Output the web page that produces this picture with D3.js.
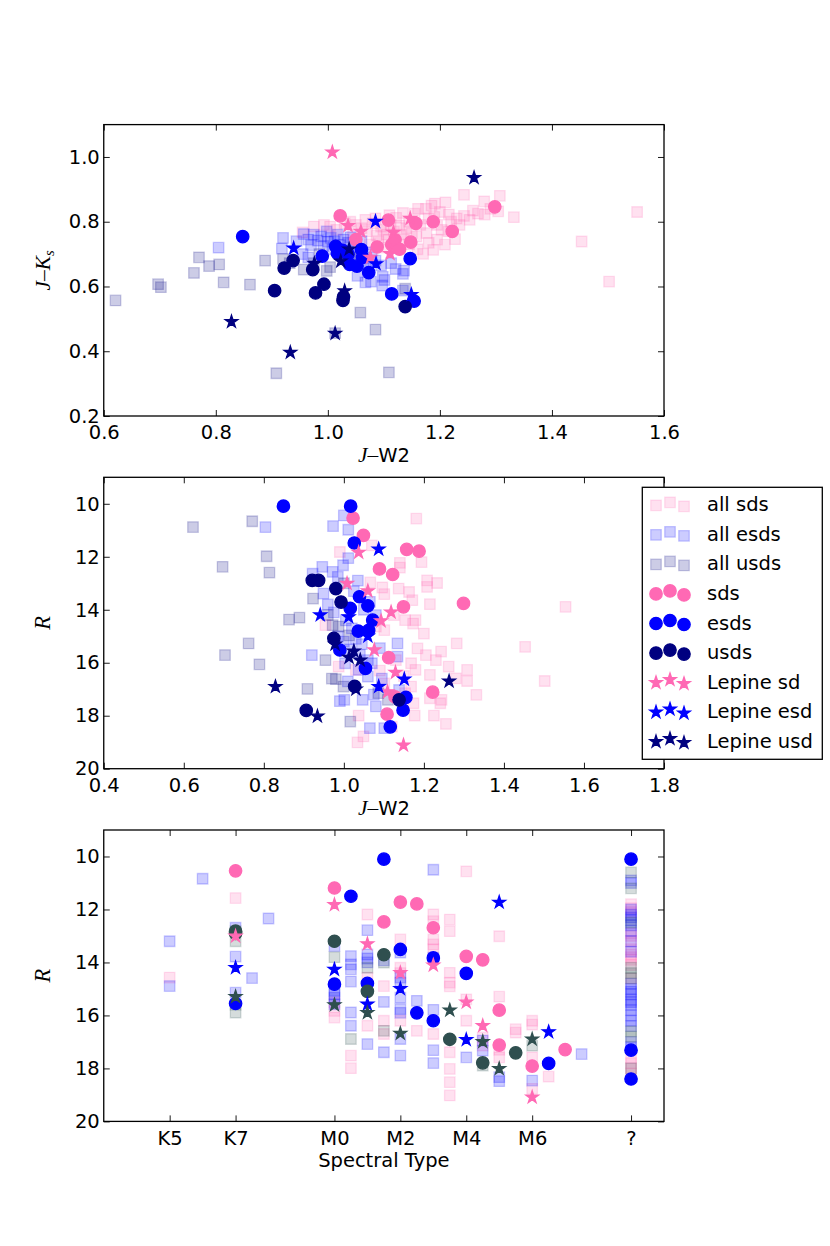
<!DOCTYPE html>
<html>
<head>
<meta charset="utf-8">
<script src="https://cdn.jsdelivr.net/npm/d3@7"></script>
<style>
  body { margin: 0; background: #fff; }
  svg { display: block; font-family: "DejaVu Sans", sans-serif; }
</style>
</head>
<body>
<svg id="fig" width="830" height="1246"></svg>
<script>
// ---- colours
const SD = "#ff69b4", ESD = "#0000ff", USD = "#000080", USD3 = "#2f4f4f";

// ---- panel 1: J-W2 vs J-Ks
const p1AllSds = [[0.955,0.767],[0.975,0.785],[0.993,0.790],[1.004,0.785],[1.015,0.775],[1.030,0.795],[1.040,0.800],[1.050,0.790],[1.060,0.780],[1.067,0.806],[1.070,0.770],[1.080,0.795],[1.087,0.757],[1.090,0.740],[1.095,0.785],[1.099,0.775],[1.105,0.760],[1.108,0.745],[1.112,0.790],[1.118,0.770],[1.122,0.812],[1.128,0.788],[1.130,0.760],[1.134,0.827],[1.136,0.745],[1.140,0.780],[1.145,0.800],[1.150,0.765],[1.155,0.825],[1.158,0.754],[1.161,0.840],[1.165,0.790],[1.170,0.701],[1.175,0.840],[1.176,0.765],[1.180,0.810],[1.185,0.850],[1.188,0.713],[1.191,0.856],[1.195,0.790],[1.200,0.830],[1.203,0.775],[1.209,0.729],[1.210,0.860],[1.216,0.822],[1.220,0.800],[1.227,0.746],[1.235,0.790],[1.243,0.883],[1.243,0.818],[1.253,0.806],[1.259,0.834],[1.268,0.825],[1.279,0.863],[1.280,0.822],[1.290,0.840],[1.304,0.832],[1.307,0.880],[1.332,0.814],[1.453,0.739],[1.502,0.615],[1.552,0.830],[1.100,0.720],[1.120,0.725],[1.145,0.730],[1.160,0.715],[1.180,0.735],[1.195,0.745],[1.045,0.760],[1.075,0.730],[1.085,0.810],[1.110,0.820],[1.190,0.815],[1.230,0.810],[1.215,0.770]];
const p1AllEsds = [[0.805,0.720],[0.920,0.750],[0.918,0.717],[0.944,0.740],[0.957,0.762],[0.965,0.745],[0.970,0.728],[0.975,0.760],[0.982,0.742],[0.988,0.755],[0.992,0.725],[0.998,0.770],[1.000,0.738],[1.005,0.750],[1.008,0.715],[1.012,0.740],[1.018,0.760],[1.022,0.728],[1.028,0.745],[1.032,0.710],[1.036,0.735],[1.040,0.752],[1.045,0.700],[1.050,0.725],[1.055,0.690],[1.060,0.740],[1.064,0.670],[1.068,0.705],[1.072,0.655],[1.078,0.690],[1.053,0.633],[1.067,0.613],[1.077,0.615],[1.097,0.603],[1.101,0.620],[1.098,0.630],[1.113,0.672],[1.121,0.654],[1.134,0.639],[1.136,0.649],[1.134,0.587],[0.955,0.700],[0.965,0.690],[1.085,0.680],[1.095,0.665]];
const p1AllUsds = [[0.621,0.557],[0.697,0.607],[0.702,0.598],[0.761,0.642],[0.770,0.690],[0.788,0.663],[0.806,0.668],[0.814,0.613],[0.861,0.606],[0.888,0.680],[0.908,0.332],[0.920,0.685],[0.932,0.672],[0.957,0.652],[0.975,0.672],[0.985,0.700],[0.998,0.648],[1.004,0.660],[1.013,0.456],[1.025,0.700],[1.040,0.690],[1.058,0.519],[1.085,0.467],[1.109,0.335],[1.138,0.593]];
const p1Sds = [[1.022,0.818],[1.050,0.745],[1.088,0.722],[1.108,0.805],[1.114,0.729],[1.120,0.744],[1.128,0.715],[1.148,0.737],[1.157,0.795],[1.188,0.800],[1.222,0.770],[1.298,0.846]];
const p1Esds = [[0.848,0.754],[0.990,0.694],[1.014,0.724],[1.017,0.703],[1.026,0.712],[1.039,0.668],[1.052,0.663],[1.060,0.714],[1.073,0.643],[1.114,0.577],[1.147,0.686],[1.154,0.555],[1.036,0.700],[1.062,0.690]];
const p1Usds = [[0.905,0.587],[0.922,0.657],[0.938,0.680],[0.973,0.652],[0.978,0.580],[0.993,0.607],[1.027,0.557],[1.028,0.568],[1.138,0.538]];
const p1LepSd = [[1.008,1.015],[1.036,0.788],[1.059,0.770],[1.076,0.690],[1.111,0.701],[1.117,0.767],[1.147,0.810]];
const p1LepEsd = [[0.939,0.718],[1.085,0.801],[1.086,0.670],[1.149,0.575]];
const p1LepUsd = [[1.261,0.936],[0.828,0.491],[0.933,0.396],[1.013,0.455],[1.030,0.586],[0.976,0.671],[1.023,0.678],[1.038,0.715]];

// ---- panel 2: J-W2 vs R
const p2AllSds = [[1.181,10.56],[0.990,11.82],[1.070,11.57],[1.140,12.23],[1.140,12.41],[1.194,12.20],[1.208,12.89],[1.208,13.14],[1.233,12.99],[1.066,12.97],[1.096,13.16],[1.137,13.20],[1.163,13.33],[1.171,13.64],[1.215,13.79],[1.101,13.41],[1.153,14.39],[1.179,14.39],[1.173,14.52],[1.080,14.64],[1.101,14.77],[0.954,14.58],[1.554,13.89],[1.453,15.40],[1.502,16.69],[1.282,15.27],[1.243,15.58],[1.205,15.71],[1.184,15.46],[1.168,16.02],[1.179,16.27],[1.215,16.46],[1.262,16.15],[1.308,16.27],[1.308,16.69],[1.280,16.59],[1.331,17.21],[1.244,17.40],[1.241,17.53],[1.215,17.34],[1.174,17.53],[1.153,17.15],[1.168,16.90],[1.177,18.00],[1.225,18.00],[1.255,18.31],[1.037,18.00],[1.034,19.01],[1.049,18.78],[1.101,16.78],[0.987,16.15],[1.030,16.27],[1.120,18.41],[1.130,15.90],[1.150,16.50],[1.090,16.30],[1.125,14.20],[1.200,14.90],[1.230,15.90]];
const p2AllEsds = [[0.804,10.88],[0.973,10.84],[1.000,10.44],[1.011,10.98],[1.011,12.05],[0.998,12.32],[0.972,12.57],[0.946,12.38],[0.922,12.64],[0.949,13.39],[0.985,12.76],[0.920,15.71],[1.001,17.40],[0.990,17.45],[1.065,18.47],[1.101,18.47],[1.080,17.65],[1.047,17.40],[1.134,15.27],[1.134,15.77],[1.138,17.03],[1.090,15.45],[1.037,16.27],[1.060,16.52],[1.070,16.02],[1.003,16.02],[0.960,13.80],[0.975,14.10],[1.005,14.40],[1.020,14.70],[1.030,15.10],[1.045,15.30],[1.000,15.20],[1.015,15.50],[1.040,15.70],[1.060,15.90],[0.985,15.00],[1.080,14.20],[1.050,14.00],[1.025,13.30],[1.065,13.70],[1.035,12.90],[1.010,16.70],[1.075,17.20],[1.095,16.60]];
const p2AllUsds = [[0.623,10.88],[0.771,10.66],[0.807,11.98],[0.814,12.60],[0.697,12.38],[0.863,14.37],[0.889,14.30],[0.762,15.27],[0.703,15.71],[0.789,16.06],[0.923,13.58],[0.954,15.90],[0.970,16.60],[0.980,16.62],[0.909,16.99],[0.999,16.90],[1.016,18.22],[1.086,17.15],[1.110,17.40],[0.972,14.58],[0.987,14.64],[1.013,14.97],[1.000,13.00],[0.960,14.20]];
const p2Sds = [[1.023,10.54],[1.049,11.19],[1.157,11.72],[1.188,11.79],[1.089,12.46],[1.122,12.67],[1.299,13.76],[1.149,13.89],[1.112,15.81],[1.222,17.11],[1.108,17.94],[1.128,17.29]];
const p2Esds = [[0.849,10.09],[1.017,10.09],[1.026,11.48],[1.039,13.51],[1.060,13.85],[1.016,13.95],[1.072,14.39],[1.036,14.81],[1.062,14.78],[0.990,15.52],[1.054,16.21],[1.155,17.31],[1.148,17.79],[1.116,18.42]];
const p2Usds = [[0.921,12.89],[0.937,12.89],[0.980,13.20],[0.993,13.71],[0.975,15.08],[1.027,16.89],[1.138,17.40],[0.906,17.80]];
const p2LepSd = [[1.037,11.84],[1.008,13.01],[1.060,13.29],[1.118,14.09],[1.093,14.42],[1.076,15.52],[1.129,16.37],[1.109,17.10],[1.149,19.11]];
const p2LepEsd = [[1.087,11.71],[0.941,14.20],[1.012,14.27],[1.060,15.00],[1.087,16.90],[1.151,16.62]];
const p2LepUsd = [[0.829,16.90],[0.934,18.02],[1.263,16.70],[1.025,15.56],[1.013,15.80],[1.041,15.90],[0.978,15.30],[1.030,17.00]];

// ---- panel 3: spectral type (M0 = 0, K7 = -3, K5 = -5, "?" = 9) vs R
const sptTicks = [-5, -3, 0, 2, 4, 6, 9];
const sptLabels = ["K5", "K7", "M0", "M2", "M4", "M6", "?"];
const p3AllSds = [[-5,14.57],[-3,11.57],[0,15.83],[0,16.08],[0,15.50],[0.5,17.52],[0.5,17.99],[1,12.19],[1,16.39],[1,14.57],[1.5,14.89],[1.5,16.20],[1.5,16.70],[2,13.13],[2,14.20],[2,16.20],[2,14.40],[2.5,16.58],[3,12.19],[3,12.44],[3,13.13],[3,13.32],[3,13.50],[3,16.70],[3.5,12.38],[3.5,12.82],[3.5,14.39],[3.5,14.76],[3.5,14.90],[3.5,17.39],[3.5,18.02],[3.5,18.52],[3.5,19.02],[4,10.56],[4,15.39],[4,16.20],[4.5,16.83],[4.5,17.14],[5,13.01],[5,15.29],[5,17.58],[5,17.30],[5.5,16.52],[5.5,16.65],[6,16.20],[6,16.35],[6,17.58],[6,18.77],[6.5,18.31],[9,11.80],[9,11.95],[9,12.10],[9,13.00],[9,13.20],[9,13.50],[9,13.70],[9,13.90],[9,14.10],[9,14.60],[9,17.60],[9,17.80],[9,18.00],[9,18.20],[9,12.90],[9,13.80]];
const p3AllEsds = [[-5,13.20],[-5,14.89],[-4,10.84],[-3,12.69],[-3,13.78],[-3,15.14],[-2.5,14.59],[-2,12.34],[0,13.38],[0,15.07],[0,15.33],[0,15.58],[0,15.20],[0.5,13.76],[0.5,14.07],[0.5,14.26],[0.5,14.72],[0.5,15.89],[0.5,16.39],[1,12.78],[1,13.70],[1,13.85],[1,14.00],[1,17.08],[1.5,13.92],[1.5,15.49],[1.5,17.39],[2,13.63],[2,14.57],[2,14.76],[2,15.33],[2,15.76],[2,15.90],[2,16.89],[2,17.52],[2.5,15.45],[3,10.50],[3,13.82],[3,15.79],[3,17.31],[3,17.80],[4,17.58],[4.5,16.95],[4.5,17.33],[5,18.33],[5,18.48],[6,18.46],[7.5,17.46],[9,10.90],[9,11.00],[9,12.00],[9,12.20],[9,12.40],[9,12.60],[9,12.80],[9,13.20],[9,13.60],[9,14.80],[9,15.00],[9,15.20],[9,15.40],[9,15.60],[9,15.80],[9,16.00],[9,16.20],[9,16.40],[9,17.00],[9,17.20],[9,12.30],[9,15.10],[9,15.50]];
const p3AllUsds = [[-3,12.82],[-3,13.20],[-3,15.89],[-3,15.60],[0,13.80],[0.5,16.89],[1,14.20],[1.5,14.01],[1.5,16.58],[4.5,17.89],[6,17.14],[9,10.60],[9,11.20],[9,12.50],[9,14.20],[9,14.40],[9,14.60],[9,16.60],[9,16.80],[9,18.00]];
const p3Sds = [[-3,10.54],[0,11.19],[2,11.72],[2.5,11.79],[1.5,12.47],[3,12.69],[4,13.77],[4.5,13.90],[5,15.80],[5,17.12],[6,17.91],[7,17.29]];
const p3Esds = [[1.5,10.10],[0.5,11.50],[2,13.51],[3,13.83],[4,14.41],[0,14.82],[1,14.79],[-3,15.55],[2.5,15.90],[3,16.20],[6.5,17.81],[9,10.10],[9,17.31],[9,18.40]];
const p3Usds = [[-3,12.82],[-3,12.90],[0,13.20],[1.5,13.71],[1,15.09],[3.5,16.90],[4.5,17.79],[5.5,17.41]];
const p3LepSd = [[0,11.82],[1,13.30],[-3,13.01],[2,14.39],[3,14.10],[4,15.50],[4.5,16.39],[6,19.09]];
const p3LepEsd = [[5,11.73],[-3,14.20],[0,14.26],[2,14.99],[1,15.58],[4,16.92],[6.5,16.62]];
const p3LepUsd = [[-3,15.29],[0,15.60],[1,15.90],[2,16.68],[3.5,15.80],[4.5,16.99],[5,18.01],[6,16.90]];

const legendLabels = ["all sds", "all esds", "all usds", "sds", "esds", "usds", "Lepine sd", "Lepine esd", "Lepine usd"];

// ---- layout
const L = 103.75, R = 664, PH = 291.4;
const TOPS = [124.6, 477.3, 830];
const FS = 19.5;
const SERIF = "'Liberation Serif', 'DejaVu Serif', serif";
const SQ = 10.5, CR = 6.2, ST = 6.6;

const svg = d3.select("#fig");

const sym = {
  square: d3.symbol(d3.symbolSquare, SQ * SQ)(),
  circle: d3.symbol(d3.symbolCircle, Math.PI * CR * CR)(),
  star: d3.symbol(d3.symbolStar, ST * ST / 0.8908130915292852)()
};

function marks(g, data, shape, color, alpha, x, y) {
  g.selectAll(null).data(data).join("path")
    .attr("d", sym[shape])
    .attr("transform", d => `translate(${x(d[0])},${y(d[1])})`)
    .attr("fill", color).attr("fill-opacity", alpha)
    .attr("stroke", color).attr("stroke-opacity", alpha)
    .attr("stroke-width", 1.3);
}

function panel(i, xDomain, yDomain, xTicks, yTicks, series, opts) {
  const top = TOPS[i], bot = top + PH;
  const x = d3.scaleLinear().domain(xDomain).range([L, R]);
  const y = d3.scaleLinear().domain(yDomain).range([bot, top]);
  const g = svg.append("g");
  const clipId = "clip" + i;
  g.append("clipPath").attr("id", clipId).append("rect")
    .attr("x", L).attr("y", top).attr("width", R - L).attr("height", PH);
  const pg = g.append("g").attr("clip-path", `url(#${clipId})`);
  series.forEach(s => marks(pg, s[0], s[1], s[2], s[3], x, y));

  const fmt = opts.xFormat || d3.format(".1f");
  const ax = (gen, tr) => {
    const a = g.append("g").attr("transform", tr).call(gen);
    a.select(".domain").remove();
    a.attr("font-family", null).attr("font-size", null);
    a.selectAll("line").attr("stroke", "#000").attr("stroke-width", 0.9);
    a.selectAll("text").style("font-size", FS + "px").style("font-family", "DejaVu Sans").attr("fill", "#000");
    return a;
  };
  ax(d3.axisBottom(x).tickValues(xTicks).tickFormat(fmt).tickSize(-6).tickPadding(9.5), `translate(0,${bot})`);
  ax(d3.axisTop(x).tickValues(xTicks).tickFormat("").tickSize(-6), `translate(0,${top})`);
  ax(d3.axisLeft(y).tickValues(yTicks).tickFormat(opts.yFormat).tickSize(-6).tickPadding(4), `translate(${L},0)`);
  ax(d3.axisRight(y).tickValues(yTicks).tickFormat("").tickSize(-6), `translate(${R},0)`);

  g.append("rect").attr("x", L).attr("y", top).attr("width", R - L).attr("height", PH)
    .attr("fill", "none").attr("stroke", "#000").attr("stroke-width", 1.3);
  return { g, top, bot };
}

function styleSet(usdColor) {
  return {
    allSd: ["square", SD, 0.2], allEsd: ["square", ESD, 0.2], allUsd: ["square", usdColor, 0.2],
    sd: ["circle", SD, 1], esd: ["circle", ESD, 1], usd: ["circle", usdColor, 1],
    lSd: ["star", SD, 1], lEsd: ["star", ESD, 1], lUsd: ["star", usdColor, 1]
  };
}
const KEYS = ["allSd", "allEsd", "allUsd", "sd", "esd", "usd", "lSd", "lEsd", "lUsd"];
function seriesFor(arrays, usdColor) {
  const st = styleSet(usdColor);
  return arrays.map((a, k) => [a, ...st[KEYS[k]]]);
}

function xLabelJW2(g, yBase) {
  const t = g.append("text").attr("x", (L + R) / 2).attr("y", yBase).attr("text-anchor", "middle")
    .style("font-size", FS + "px");
  t.append("tspan").style("font-family", SERIF).style("font-style", "italic").style("font-size", (FS * 1.1) + "px").text("J");
  t.append("tspan").style("font-family", SERIF).style("font-size", (FS * 1.1) + "px").text("\u2013");
  t.append("tspan").style("font-family", "DejaVu Sans").text("W2");
}
function yLabelR(g, top) {
  g.append("text").attr("transform", `translate(50,${top + PH / 2}) rotate(-90)`)
    .attr("text-anchor", "middle").style("font-family", SERIF).style("font-style", "italic")
    .style("font-size", (FS * 1.15) + "px").text("R");
}

// ---- panel 1
const P1 = panel(0, [0.6, 1.6], [0.2, 1.1], d3.range(0.6, 1.61, 0.2), d3.range(0.2, 1.01, 0.2),
  seriesFor([p1AllSds, p1AllEsds, p1AllUsds, p1Sds, p1Esds, p1Usds, p1LepSd, p1LepEsd, p1LepUsd], USD),
  { yFormat: d3.format(".1f") });
xLabelJW2(P1.g, P1.bot + 46);
{
  const t = P1.g.append("text").attr("transform", `translate(50,${P1.top + PH / 2}) rotate(-90)`)
    .attr("text-anchor", "middle").style("font-family", SERIF).style("font-size", (FS * 1.1) + "px");
  t.append("tspan").style("font-style", "italic").text("J");
  t.append("tspan").text("\u2013");
  t.append("tspan").style("font-style", "italic").text("K");
  t.append("tspan").style("font-style", "italic").style("font-size", (FS * 0.75) + "px").attr("dy", 4).text("s");
}

// ---- panel 2
const P2 = panel(1, [0.4, 1.8], [20, 9], d3.range(0.4, 1.81, 0.2), d3.range(10, 20.1, 2),
  seriesFor([p2AllSds, p2AllEsds, p2AllUsds, p2Sds, p2Esds, p2Usds, p2LepSd, p2LepEsd, p2LepUsd], USD),
  { yFormat: d3.format("d") });
xLabelJW2(P2.g, P2.bot + 46);
yLabelR(P2.g, P2.top);

// ---- panel 3
const P3 = panel(2, [-7, 10], [20, 9], sptTicks, d3.range(10, 20.1, 2),
  seriesFor([p3AllSds, p3AllEsds, p3AllUsds, p3Sds, p3Esds, p3Usds, p3LepSd, p3LepEsd, p3LepUsd], USD3),
  { yFormat: d3.format("d"), xFormat: (d, k) => sptLabels[k] });
P3.g.append("text").attr("x", (L + R) / 2).attr("y", P3.bot + 46).attr("text-anchor", "middle")
  .style("font-size", FS + "px").text("Spectral Type");
yLabelR(P3.g, P3.top);

// ---- legend (inside panel 2, spilling past its right edge)
{
  const lg = svg.append("g");
  lg.append("rect").attr("x", 642.3).attr("y", 487.3).attr("width", 180).attr("height", 272)
    .attr("fill", "#fff").attr("stroke", "#000").attr("stroke-width", 1.3);
  const st = styleSet(USD);
  const rowY = d3.scaleLinear().domain([0, 8]).range([504.3, 740.7]);
  const mx = [656, 670, 684], my = [1, -2, 2];
  legendLabels.forEach((lab, k) => {
    const [shape, color, alpha] = st[KEYS[k]];
    const pts = mx.map((px, j) => [px, rowY(k) + my[j]]);
    marks(lg, pts, shape, color, alpha, d => d, d => d);
    lg.append("text").attr("x", 707).attr("y", rowY(k) + 7).style("font-size", FS + "px").text(lab);
  });
}
</script>
</body>
</html>
